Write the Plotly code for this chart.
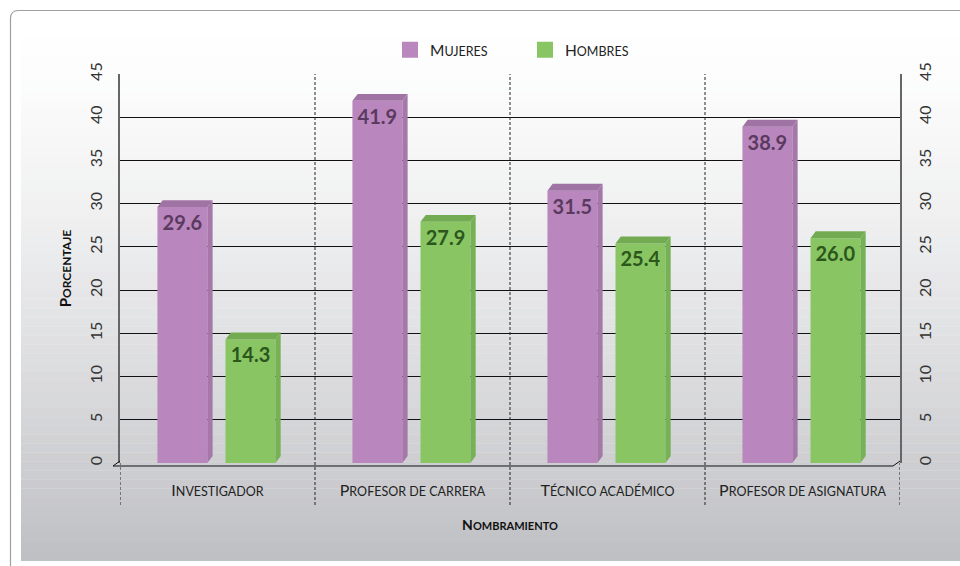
import plotly.graph_objects as go

categories = ["Investigador", "Profesor de carrera", "Técnico académico", "Profesor de asignatura"]
mujeres = [29.6, 41.9, 31.5, 38.9]
hombres = [14.3, 27.9, 25.4, 26.0]
y_ticks = [0, 5, 10, 15, 20, 25, 30, 35, 40, 45]

FONT = "Lato"
PURPLE = "#b987bd"
GREEN = "#89c563"

# plot area in pixels
L, R, T, B = 120, 900, 74, 463
W, H = 960, 566


def px(x):
    return (x - L) / (R - L)


def py(y):
    return (B - y) / (B - T)


def smallcaps(text, big, small):
    out = ""
    for ch in text:
        if ch.isupper():
            out += f"<span style='font-size:{big}px'>{ch}</span>"
        elif ch == " ":
            out += f"<span style='font-size:{small}px'> </span>"
        else:
            out += f"<span style='font-size:{small}px'>{ch.upper()}</span>"
    return out


fig = go.Figure()

series = [
    ("Mujeres", mujeres, PURPLE, "#a578a9", "#9f73a3", "#5b3a60", -0.308),
    ("Hombres", hombres, GREEN, "#77b156", "#72ab52", "#2b571c", 0.041),
]
bw = 0.256
dx, dy = 0.027, 0.8
xs = list(range(len(categories)))

for name, vals, col, side_col, top_col, txt_col, off in series:
    # 3D side and top faces
    for i, v in zip(xs, vals):
        x0 = i + off
        x1 = x0 + bw
        fig.add_trace(go.Scatter(
            x=[x1, x1 + dx, x1 + dx, x1, x1], y=[0, dy, v + dy, v, 0],
            fill="toself", fillcolor=side_col, line=dict(width=0),
            mode="lines", showlegend=False, hoverinfo="skip"))
        fig.add_trace(go.Scatter(
            x=[x0, x1, x1 + dx, x0 + dx, x0], y=[v, v, v + dy, v + dy, v],
            fill="toself", fillcolor=top_col, line=dict(width=0),
            mode="lines", showlegend=False, hoverinfo="skip"))
    fig.add_trace(go.Bar(
        name=name, x=xs, y=vals, offset=off, width=bw, showlegend=False,
        marker=dict(color=col, line=dict(width=0)),
        text=[f"{v:.1f}" for v in vals], textposition="inside",
        insidetextanchor="end", textangle=0,
        textfont=dict(family=FONT, size=20, color=txt_col, weight="bold"),
    ))
    # legend entry with a larger square swatch
    fig.add_trace(go.Scatter(
        x=[None], y=[None], mode="markers", name=smallcaps(name, 15.5, 12.5),
        marker=dict(symbol="square", size=17, color=col)))

# invisible trace for right axis
fig.add_trace(go.Scatter(x=[0], y=[0], yaxis="y2", mode="markers",
                         marker=dict(opacity=0), showlegend=False, hoverinfo="skip"))

shapes = []
# background gradient panel
N = 60
top_px, bot_px = 20, 561
for k in range(N):
    y0 = top_px + (bot_px - top_px) * k / N
    y1 = top_px + (bot_px - top_px) * (k + 1) / N
    t = ((k + 0.5) / N) ** 1.4
    c0, c1 = (255, 255, 255), (190, 191, 195)
    c = tuple(round(a + (b - a) * t) for a, b in zip(c0, c1))
    shapes.append(dict(type="rect", xref="paper", yref="paper", layer="below",
                       x0=px(21), x1=px(962), y0=py(y1), y1=py(y0) + 0.001,
                       fillcolor=f"rgb{c}", line=dict(width=0)))
# outer rounded border
r = 8
path = (f"M {px(10.5)},{py(570)} L {px(10.5)},{py(10.5 + r)} "
        f"Q {px(10.5)},{py(10.5)} {px(10.5 + r)},{py(10.5)} L {px(962)},{py(10.5)}")
shapes.append(dict(type="path", xref="paper", yref="paper", path=path,
                   line=dict(color="#a0a0a0", width=1.2), layer="below"))

# category separators
for k in range(len(categories) + 1):
    xb = k - 0.5
    ytop = 1 if 0 < k < len(categories) else 0
    shapes.append(dict(type="line", xref="x", yref="paper", x0=xb, x1=xb,
                       y0=py(505), y1=ytop,
                       line=dict(color="#222", width=1, dash="3px,2px")))
# front floor line
shapes.append(dict(type="line", xref="paper", yref="paper",
                   x0=px(113), x1=px(893), y0=py(466), y1=py(466),
                   line=dict(color="#111", width=1.2)))
shapes.append(dict(type="line", xref="paper", yref="paper",
                   x0=px(113), x1=px(120), y0=py(466), y1=py(461),
                   line=dict(color="#111", width=1)))
shapes.append(dict(type="line", xref="paper", yref="paper",
                   x0=px(893), x1=px(900), y0=py(466), y1=py(461),
                   line=dict(color="#111", width=1)))

axis_common = dict(
    range=[0, 45], tickvals=y_ticks, tickangle=-90,
    tickfont=dict(family=FONT, size=16, color="#333"),
    showline=True, linecolor="#666", linewidth=1.5,
    ticks="", ticklabelstandoff=10, zeroline=False,
)

fig.update_layout(
    width=W, height=H,
    margin=dict(l=L, r=W - R, t=T, b=H - B),
    paper_bgcolor="white",
    plot_bgcolor="rgba(0,0,0,0)",
    barmode="overlay",
    font=dict(family=FONT, color="#222"),
    shapes=shapes,
    showlegend=True,
    legend=dict(orientation="h", x=px(390), xanchor="left", y=py(50), yanchor="middle",
                font=dict(family=FONT, size=15, color="#222"),
                itemwidth=30, traceorder="normal", entrywidthmode="pixels", entrywidth=90,
                bgcolor="rgba(0,0,0,0)"),
    xaxis=dict(
        range=[-0.5, len(categories) - 0.5],
        tickvals=xs, ticktext=[smallcaps(c, 16, 12.5) for c in categories],
        tickfont=dict(family=FONT, size=16, color="#222"),
        showgrid=False, zeroline=False, ticks="", ticklabelstandoff=16,
        title=dict(text="<b>" + smallcaps("Nombramiento", 14, 11) + "</b>",
                   font=dict(family=FONT, size=14, color="#111"), standoff=22),
    ),
    yaxis=dict(
        **axis_common,
        showgrid=True, gridcolor="#111", gridwidth=1,
        title=dict(text="<b>" + smallcaps("Porcentaje", 15, 12) + "</b>",
                   font=dict(family=FONT, size=15, color="#111"), standoff=11),
    ),
    yaxis2=dict(**axis_common, overlaying="y", side="right", showgrid=False),
)

fig.write_html("out.html", config={"displayModeBar": False},
               post_script="document.body.style.margin='0px';")
